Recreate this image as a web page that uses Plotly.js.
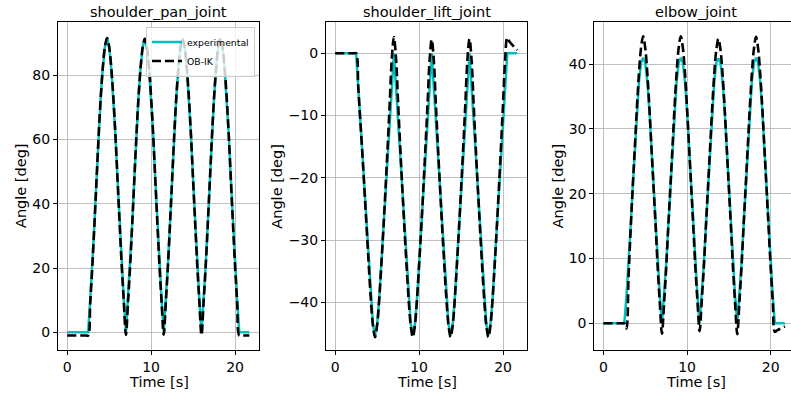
<!DOCTYPE html>
<html>
<head>
<meta charset="utf-8">
<script src="https://cdn.plot.ly/plotly-3.0.1.min.js"></script>
<style>html,body{margin:0;padding:0;background:#fff;}#chart{width:791px;height:397px;}</style>
</head>
<body>
<div id="chart"></div>
<script>
// ---- data ----
const time = [0, 2.25, 2.5, 2.75, 3, 3.25, 3.5, 3.75, 4, 4.25, 4.5, 4.75, 5, 5.25, 5.5, 5.75, 6, 6.25, 6.5, 6.75, 7,
  7.25, 7.5, 7.75, 8, 8.25, 8.5, 8.75, 9, 9.25, 9.5, 9.75, 10, 10.25, 10.5, 10.75, 11, 11.25, 11.5,
  11.75, 12, 12.25, 12.5, 12.75, 13, 13.25, 13.5, 13.75, 14, 14.25, 14.5, 14.75, 15, 15.25, 15.5, 15.75, 16,
  16.25, 16.5, 16.75, 17, 17.25, 17.5, 17.75, 18, 18.25, 18.5, 18.75, 19, 19.25, 19.5, 19.75, 20, 20.25, 20.5,
  20.75, 21.7];

const panExperimental = [0, 0, 0,
  10.1, 21.0, 33.9, 47.6, 61.3, 73.2, 82.4, 88.8, 91.5,
  88.8, 82.4, 73.2, 61.3, 47.6, 33.9, 21.0, 10.1, 0,
  10.1, 21.0, 33.9, 47.6, 61.3, 73.2, 82.4, 88.7, 91.3,
  88.7, 82.3, 73.1, 61.2, 47.5, 33.8, 20.9, 10.0, 0,
  10.0, 20.9, 33.8, 47.5, 61.2, 73.1, 82.2, 88.6, 91.2,
  88.6, 82.2, 73.1, 61.2, 47.5, 33.8, 20.9, 10.0, 0,
  10.0, 20.9, 33.8, 47.5, 61.2, 73.1, 82.3, 88.7, 91.4,
  88.7, 82.3, 73.1, 61.2, 47.5, 33.8, 20.9, 10.0, 0,
  0, 0];
const panOBIK = [-1.0, -1.0, -1.0,
  9.2, 20.6, 33.6, 47.4, 61.2, 73.1, 82.4, 88.8, 91.5,
  88.8, 82.4, 73.2, 61.3, 47.5, 33.7, 20.6, 9.4, -0.8,
  9.4, 20.6, 33.7, 47.5, 61.3, 73.2, 82.4, 88.7, 91.3,
  88.7, 82.3, 73.1, 61.2, 47.4, 33.6, 20.5, 9.3, -0.8,
  9.3, 20.5, 33.6, 47.4, 61.2, 73.1, 82.2, 88.6, 91.2,
  88.6, 82.2, 73.1, 61.2, 47.4, 33.6, 20.5, 9.3, -0.9,
  9.3, 20.5, 33.6, 47.4, 61.2, 73.1, 82.3, 88.7, 91.4,
  88.7, 82.3, 73.1, 61.2, 47.4, 33.6, 20.5, 9.2, -1.0,
  -1.0, -1.0];

const liftExperimental = [0, 0, 0,
  -5.4, -10.9, -16.3, -22.2, -28.1, -34.0, -39.4, -43.5, -45.3,
  -43.5, -39.4, -34.0, -28.1, -22.2, -16.3, -10.9, -5.4, 0,
  -5.4, -10.9, -16.3, -22.2, -28.1, -34.0, -39.4, -43.5, -45.3,
  -43.5, -39.4, -34.0, -28.1, -22.2, -16.3, -10.9, -5.4, 0,
  -5.4, -10.9, -16.3, -22.2, -28.1, -34.0, -39.4, -43.5, -45.3,
  -43.5, -39.4, -34.0, -28.1, -22.2, -16.3, -10.9, -5.4, 0,
  -5.4, -10.9, -16.3, -22.2, -28.1, -34.0, -39.4, -43.5, -45.3,
  -43.5, -39.4, -34.0, -28.1, -22.2, -16.3, -10.9, -5.4, 0,
  0, 0];
const liftOBIK = [0, 0, 0,
  -5.4, -10.9, -16.3, -22.2, -28.1, -34.0, -39.5, -43.7, -45.6,
  -43.7, -39.5, -34.0, -28.1, -21.7, -15.0, -8.0, -0.8, 2.6,
  -0.8, -8.0, -15.0, -21.7, -28.1, -34.0, -39.5, -43.7, -45.6,
  -43.7, -39.5, -34.0, -28.1, -21.8, -15.2, -8.3, -1.1, 2.2,
  -1.1, -8.3, -15.2, -21.8, -28.1, -34.0, -39.5, -43.7, -45.6,
  -43.7, -39.5, -34.0, -28.1, -21.8, -15.2, -8.3, -1.1, 2.3,
  -1.1, -8.3, -15.2, -21.8, -28.1, -34.0, -39.5, -43.7, -45.6,
  -43.7, -39.5, -34.0, -28.1, -21.7, -15.0, -8.0, -0.9, 2.5,
  1.9, 0.5];

const elbowExperimental = [0, 0, 0,
  4.1, 9.0, 14.8, 20.9, 27.1, 32.8, 37.3, 40.2, 41.0,
  40.2, 37.3, 32.8, 27.1, 20.9, 14.8, 9.0, 4.1, 0,
  4.1, 9.0, 14.8, 20.9, 27.1, 32.8, 37.3, 40.2, 41.0,
  40.2, 37.3, 32.8, 27.1, 20.9, 14.8, 9.0, 4.1, 0,
  4.1, 9.0, 14.8, 20.9, 27.1, 32.8, 37.3, 40.2, 40.9,
  40.2, 37.3, 32.8, 27.1, 20.9, 14.8, 9.0, 4.1, 0,
  4.1, 9.0, 14.8, 20.9, 27.1, 32.8, 37.3, 40.2, 41.0,
  40.2, 37.3, 32.8, 27.1, 20.9, 14.8, 9.0, 4.1, 0,
  0, 0];
const elbowOBIK = [0, 0, 0,
  -0.8, 7.0, 14.3, 20.9, 27.0, 33.2, 38.6, 42.5, 44.3,
  42.5, 38.6, 33.2, 27.0, 20.9, 14.8, 8.4, 3.0, -1.6,
  3.0, 8.4, 14.8, 20.9, 27.0, 33.2, 38.6, 42.5, 44.3,
  42.5, 38.6, 33.2, 27.0, 20.9, 14.8, 8.5, 3.3, -1.2,
  3.3, 8.5, 14.8, 20.9, 27.0, 33.1, 38.4, 42.2, 43.9,
  42.2, 38.4, 33.1, 27.0, 20.9, 14.8, 8.4, 3.0, -1.7,
  3.0, 8.4, 14.8, 20.9, 27.0, 33.2, 38.5, 42.4, 44.2,
  42.4, 38.5, 33.2, 27.0, 20.9, 14.8, 8.6, 3.4, -1.3,
  -1.1, -0.5];

const panelTitles = ['shoulder_pan_joint', 'shoulder_lift_joint', 'elbow_joint'];
const seriesNames = ['experimental', 'OB-IK'];
const timeTicks = [0, 10, 20];
const panTicks = [0, 20, 40, 60, 80];
const liftTicks = [-40, -30, -20, -10, 0];
const elbowTicks = [0, 10, 20, 30, 40];
const xLabel = 'Time [s]';
const yLabel = 'Angle [deg]';

// ---- figure ----
const W = 791, H = 397;
const px = v => v / W;
const py = v => 1 - v / H;
const CYAN = '#00bfbf';

const expData = [panExperimental, liftExperimental, elbowExperimental];
const ikData = [panOBIK, liftOBIK, elbowOBIK];
const traces = [];
for (let i = 0; i < 3; i++) {
  const xa = i === 0 ? 'x' : 'x' + (i + 1);
  const ya = i === 0 ? 'y' : 'y' + (i + 1);
  traces.push({x: time, y: expData[i], xaxis: xa, yaxis: ya, type: 'scatter', mode: 'lines',
    name: seriesNames[0], showlegend: i === 0, line: {color: CYAN, width: 2.5}});
  traces.push({x: time, y: ikData[i], xaxis: xa, yaxis: ya, type: 'scatter', mode: 'lines',
    name: seriesNames[1], showlegend: i === 0, line: {color: '#000000', width: 2.6, dash: '9px,4px', shape: 'spline', smoothing: 1}});
}

const common = {
  showline: true, linecolor: '#000', linewidth: 1, mirror: true,
  ticks: 'outside', ticklen: 4, tickwidth: 1, tickcolor: '#000',
  showgrid: true, gridcolor: '#b0b0b0', gridwidth: 0.8, zeroline: false,
  tickfont: {family: 'DejaVu Sans', size: 14, color: '#000'},
  fixedrange: true
};
const yDom = [py(350), py(22)];
const panels = [
  {l: 58, r: 259, xr: [-1.09, 22.85], yr: [-5.5, 96.5], yt: panTicks, cx: 158.5, lx: 21},
  {l: 326, r: 527, xr: [-1.09, 22.85], yr: [-47.66, 5.03], yt: liftTicks, cx: 426.5, lx: 276.7},
  {l: 594.3, r: 791, xr: [-1.09, 22.43], yr: [-4.12, 46.5], yt: elbowTicks, cx: 695.5, lx: 558.3}
];

const layout = {
  width: W, height: H, margin: {l: 0, r: 0, t: 0, b: 0},
  paper_bgcolor: '#ffffff', plot_bgcolor: '#ffffff',
  font: {family: 'DejaVu Sans', size: 14, color: '#000'},
  showlegend: true,
  legend: {x: px(255), y: py(26.5), xanchor: 'right', yanchor: 'top',
    bgcolor: 'rgba(255,255,255,0.8)', bordercolor: '#cccccc', borderwidth: 1,
    font: {family: 'DejaVu Sans', size: 9.3, color: '#000'}, tracegroupgap: 0},
  annotations: []
};
panels.forEach((p, i) => {
  const s = i === 0 ? '' : String(i + 1);
  layout['xaxis' + s] = Object.assign({}, common, {domain: [px(p.l), px(p.r)], range: p.xr,
    anchor: 'y' + s, tickvals: timeTicks, ticktext: timeTicks.map(String)});
  layout['yaxis' + s] = Object.assign({}, common, {domain: yDom, range: p.yr,
    anchor: 'x' + s, tickvals: p.yt, mirror: i === 2 ? false : true});
  layout.annotations.push({text: panelTitles[i], xref: 'paper', yref: 'paper', x: px(p.cx), y: py(12),
    xanchor: 'center', yanchor: 'middle', showarrow: false, font: {family: 'DejaVu Sans', size: 14.5, color: '#000'}});
  layout.annotations.push({text: xLabel, xref: 'paper', yref: 'paper', x: px(p.cx), y: py(381.5),
    xanchor: 'center', yanchor: 'middle', showarrow: false, font: {family: 'DejaVu Sans', size: 14.5, color: '#000'}});
  layout.annotations.push({text: yLabel, xref: 'paper', yref: 'paper', x: px(p.lx), y: py(186),
    xanchor: 'center', yanchor: 'middle', textangle: -90, showarrow: false, font: {family: 'DejaVu Sans', size: 14.5, color: '#000'}});
});

Plotly.newPlot('chart', traces, layout, {displayModeBar: false, staticPlot: true});
</script>
</body>
</html>
